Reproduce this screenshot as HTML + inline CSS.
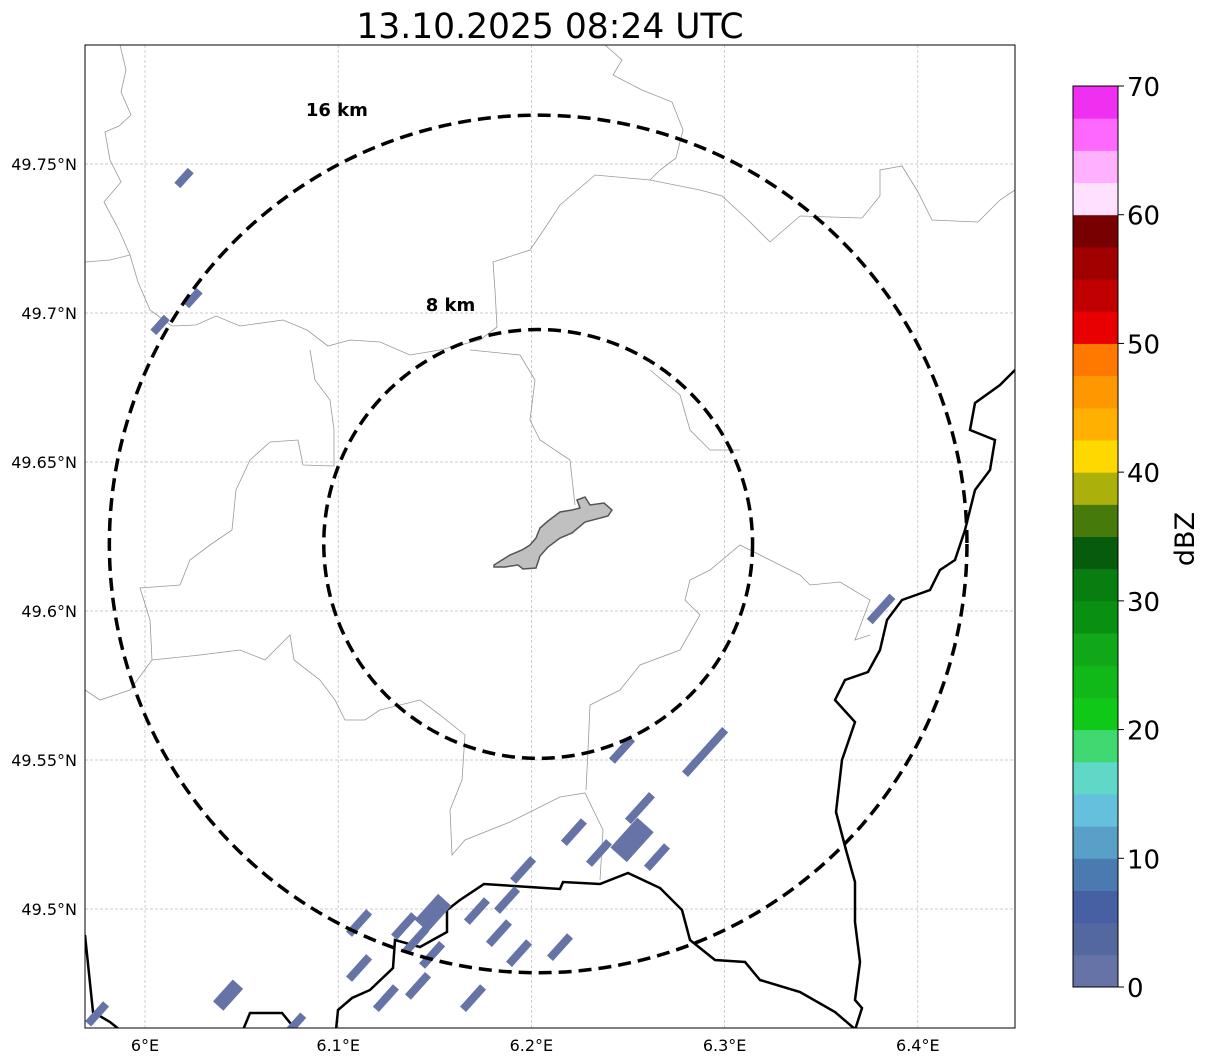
<!DOCTYPE html>
<html><head><meta charset="utf-8">
<style>
body{margin:0;background:#fff;width:1207px;height:1064px;overflow:hidden;font-family:"DejaVu Sans","Liberation Sans",sans-serif;}
svg{position:absolute;left:0;top:0}
</style></head>
<body>
<svg id="chart" width="1207" height="1064" viewBox="0 0 1207 1064" xmlns="http://www.w3.org/2000/svg" font-family="DejaVu Sans, Liberation Sans, sans-serif">
<text x="550" y="38" font-size="34.5" text-anchor="middle" fill="#000">13.10.2025 08:24 UTC</text>
<defs><clipPath id="mapclip"><rect x="85" y="45" width="930" height="983"/></clipPath></defs>
<g id="grid"></g>
<g clip-path="url(#mapclip)">
 <g fill="none" stroke="#999" stroke-width="0.8">
  <path d="M120,45 L126,70 L121,92 L131,115 L119,126 L105,132 L110,160 L121,182 L104,202 L119,230 L130,255 L110,260 L85,262"/>
  <path d="M130,255 L138,282 L150,310 L172,326 L196,325 L216,316 L240,326 L283,320 L307,330 L328,346 L350,340 L380,342 L410,355 L440,350 L480,340 L497,327 L495,290 L493,262 L530,250 L545,228 L560,205 L595,175 L650,180 L700,190 L722,196 L748,220 L770,242 L800,216 L862,218 L880,196 L880,170 L902,166 L918,192 L932,220 L978,222 L1000,200 L1015,190"/>
  <path d="M605,45 L622,60 L613,75 L642,90 L672,102 L683,130 L676,158 L660,170 L650,180"/>
  <path d="M310,350 L315,380 L330,400 L334,430 L334,466 L303,465 L298,440 L270,442 L250,460 L236,490 L232,530 L210,545 L190,560 L180,585 L140,588 L150,620 L152,660 L130,690 L100,700 L85,690"/>
  <path d="M152,660 L200,655 L240,650 L265,660 L290,635 L294,660 L320,680 L335,700 L345,720 L365,720 L380,710 L420,700 L440,715 L465,735 L462,780 L450,810 L452,855 L465,840 L510,822 L560,797 L585,793 L603,830 L600,880"/>
  <path d="M575,505 L570,460 L540,440 L530,420 L535,380 L520,355 L470,350"/>
  <path d="M586,790 L588,750 L590,705 L620,690 L640,665 L680,650 L700,615 L685,600 L690,580 L710,570 L740,545 L770,560 L800,575 L810,585 L840,582 L870,600 L855,640 L870,635"/>
  <path d="M650,370 L680,395 L690,430 L710,450 L740,450"/>
 </g>
 <g fill="none" stroke="#000" stroke-width="2.5">
  <path d="M1015,370 L1000,385 L975,403 L970,430 L995,440 L990,470 L975,490 L965,530 L955,560 L940,570 L930,590 L902,600 L887,620 L880,650 L868,672 L845,680 L835,700 L855,722 L842,760 L836,812 L846,850 L855,882 L855,922 L860,962 L855,1000 L862,1008 L855,1030"/>
  <path d="M336,1030 L338,1010 L352,998 L370,990 L393,968 L395,940 L420,947 L447,932 L447,910 L460,900 L484,884 L560,889 L563,882 L600,884 L628,873 L660,888 L682,910 L690,940 L715,960 L745,962 L760,980 L800,992 L835,1012 L856,1030"/>
  <path d="M85,935 L93,1012 L110,1022 L120,1030"/>
  <path d="M243,1030 L250,1013 L282,1013 L296,1030"/>
 </g>
 <path fill="#c0c0c0" stroke="#555" stroke-width="1.5" d="M494,565 L510,555 L522,550 L530,545 L536,538 L540,528 L548,521 L560,512 L572,510 L580,508 L577,500 L585,497 L590,505 L604,503 L612,510 L608,516 L585,522 L572,533 L560,538 L548,547 L540,556 L536,568 L523,569 L518,565 L505,567 L494,567 Z"/>
 <g id="echoes"></g>
 <g id="rings"></g>
</g>
<rect x="85" y="45" width="930" height="983" fill="none" stroke="#000" stroke-width="1"/>
<g id="ticks" font-size="16" fill="#000"></g>
<g id="cbar"></g>
<text x="1194" y="539" font-size="27" text-anchor="middle" transform="rotate(-90 1194 539)">dBZ</text>
</svg>
<script>
// ---- data ----
const lonTicks = [6.0, 6.1, 6.2, 6.3, 6.4];
const lonLabels = ["6°E", "6.1°E", "6.2°E", "6.3°E", "6.4°E"];
const latTicks = [49.5, 49.55, 49.6, 49.65, 49.7, 49.75];
const latLabels = ["49.5°N", "49.55°N", "49.6°N", "49.65°N", "49.7°N", "49.75°N"];
const echoLon = [6.0202,6.0248,6.0078,6.3810,6.2899,6.2469,6.2562,6.2521,6.2650,6.2350,6.2220,6.1957,6.1874,6.1718,6.1491,6.1341,6.1108,6.1403,6.1832,6.1936,6.2148,6.1486,6.1108,6.1247,6.1413,6.1698,6.0430,6.0782,5.9752];
const echoLat = [49.7453,49.7050,49.6960,49.6007,49.5527,49.5534,49.5339,49.5232,49.5174,49.5188,49.5258,49.5131,49.5030,49.4993,49.4987,49.4943,49.4953,49.4896,49.4919,49.4852,49.4872,49.4846,49.4802,49.4701,49.4742,49.4701,49.4711,49.4617,49.4648];
const echoLenKm = [0.75,0.75,0.75,1.27,2.24,1.12,1.34,1.5,1.12,1.12,1.12,1.12,1.12,1.12,1.3,1.12,1.12,1.12,1.12,1.12,1.12,1.12,1.12,1.12,1.12,1.12,1.1,0.8,1.0];
const echoWidKm = [0.3,0.3,0.3,0.3,0.3,0.3,0.3,0.82,0.3,0.3,0.3,0.3,0.3,0.3,0.67,0.3,0.3,0.3,0.3,0.3,0.3,0.3,0.3,0.3,0.3,0.3,0.52,0.3,0.3];
const echoDbz = [2,2,2,2,2,2,2,2,2,2,2,2,2,2,2,2,2,2,2,2,2,2,2,2,2,2,2,2,2];
const ringKm = [8, 16];
const ringLabels = ["8 km", "16 km"];
const radarLon = 6.2035, radarLat = 49.6225;
const cbarTicks = [0,10,20,30,40,50,60,70];
const cbarColors = ["#6673a6","#5468a0","#4660a3","#4a7ab0","#58a0c8","#64c0dc","#60d8c8","#40d870",
 "#10c818","#10b818","#10a818","#0a9010","#087e10","#065c0c","#467a0a","#acb00a",
 "#ffd800","#ffb000","#ff9800","#ff7800","#e80000","#c00000","#a00000","#780000",
 "#ffe0ff","#ffb0ff","#ff68ff","#f030f0"];
// ---- scales ----
const NS="http://www.w3.org/2000/svg";
const X = lon => 145 + (lon-6.0)*1932;
const Y = lat => 909 - (lat-49.5)*2980;
const PXKM = 26.8; // pixels per km
function mk(tag, attrs, parent){const e=document.createElementNS(NS,tag);for(const k in attrs)e.setAttribute(k,attrs[k]);parent.appendChild(e);return e;}
const grid=document.getElementById('grid'), ticks=document.getElementById('ticks');
lonTicks.forEach((v,i)=>{
  const l=mk('line',{x1:X(v),x2:X(v),y1:45,y2:1028,stroke:'#bbb','stroke-width':0.7,'stroke-dasharray':'3,2'},grid);
  
  
  const t=mk('text',{x:X(v),y:1051,'text-anchor':'middle'},ticks); t.textContent=lonLabels[i];
  
  
});
latTicks.forEach((v,i)=>{
  const l=mk('line',{x1:85,x2:1015,y1:Y(v),y2:Y(v),stroke:'#bbb','stroke-width':0.7,'stroke-dasharray':'3,2'},grid);
  
  
  const t=mk('text',{x:77,y:Y(v)+6,'text-anchor':'end'},ticks); t.textContent=latLabels[i];
  
  
});
function colorFor(d){return cbarColors[Math.max(0,Math.min(27,Math.floor(d/2.5)))];}
const echoes=document.getElementById('echoes');
echoLon.forEach((lo,i)=>{
  const cx=X(lo), cy=Y(echoLat[i]), L=echoLenKm[i]*PXKM, W=echoWidKm[i]*PXKM;
  const r=mk('rect',{x:cx-L/2,y:cy-W/2,width:L,height:W,fill:colorFor(echoDbz[i]),transform:`rotate(-48 ${cx} ${cy})`},echoes);
  
  
});
const rings=document.getElementById('rings');
const rcx=X(radarLon), rcy=Y(radarLat);
ringKm.forEach((k,i)=>{
  const R=k*PXKM;
  const c=mk('circle',{cx:rcx,cy:rcy,r:R,fill:'none',stroke:'#000','stroke-width':3.5,'stroke-dasharray':'13,7'},rings);
  
  
  const t=mk('text',{x:rcx-0.53*R+26,y:rcy-0.909*R-38,'font-size':18,'font-weight':'bold','text-anchor':'middle'},rings);
  t.textContent=ringLabels[i];
  
  
});
// colorbar
const cb=document.getElementById('cbar');
const CB = v => 987 - v*(901/70);
cbarColors.forEach((c,i)=>{
  const r=mk('rect',{x:1073,y:CB((i+1)*2.5),width:45,height:CB(i*2.5)-CB((i+1)*2.5)+0.5,fill:c},cb);
  
  
});
mk('rect',{x:1073,y:86,width:45,height:901,fill:'none',stroke:'#000','stroke-width':1},cb);
cbarTicks.forEach(v=>{
  mk('line',{x1:1118,x2:1124,y1:CB(v),y2:CB(v),stroke:'#000'},cb);
  const t=mk('text',{x:1127,y:CB(v)+10,'font-size':26},cb); t.textContent=v;
  
  
});
</script>
</body></html>
